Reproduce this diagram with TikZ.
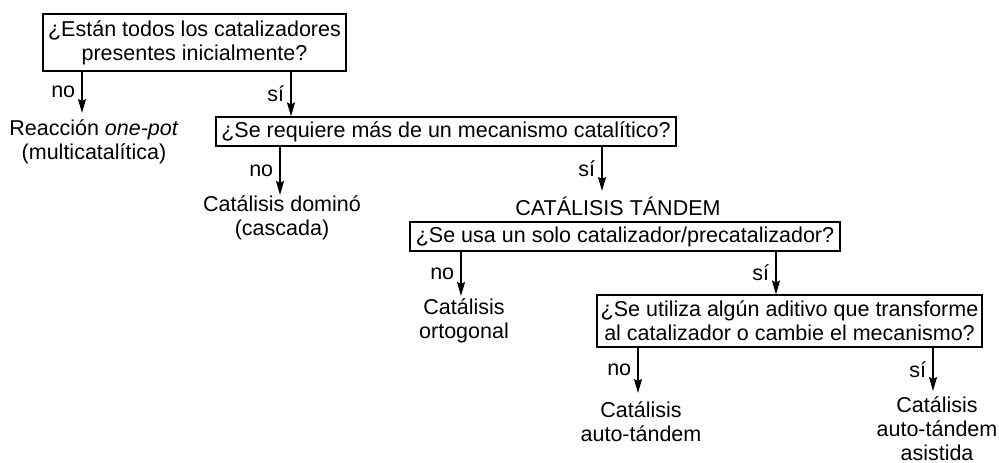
\documentclass[tikz,border=0pt]{standalone}
\usepackage{fontspec}
\setmainfont{Liberation Sans}
\usetikzlibrary{arrows.meta}
\begin{document}
\begin{tikzpicture}[x=1bp,y=-1bp,
  every node/.style={font=\fontsize{21.5bp}{24bp}\selectfont, align=center, inner sep=0pt},
  qbox/.style={draw, line width=1.1bp},
  conn/.style={line width=1.6bp, -{Stealth[length=14bp,width=8bp,inset=2bp]}},
  lab/.style={midway, left, inner sep=6bp}]
\useasboundingbox (0,0) rectangle (999,463);
% question boxes
\node[qbox, minimum width=303bp, minimum height=57bp] (q1) at (194.5,42.5) {¿Están todos los catalizadores\\presentes inicialmente?};
\node[qbox, minimum width=460bp, minimum height=29bp] (q2) at (446,131.5) {¿Se requiere más de un mecanismo catalítico?};
\node[qbox, minimum width=430bp, minimum height=29bp] (q3) at (625,236.5) {¿Se usa un solo catalizador/precatalizador?};
\node[qbox, minimum width=385bp, minimum height=52bp] (q4) at (789.5,321) {¿Se utiliza algún aditivo que transforme\\al catalizador o cambie el mecanismo?};
% outcomes
\node (r1) at (94,142) {Reacción \textit{one-pot}\\(multicatalítica)};
\node (r2) at (282,218) {Catálisis dominó\\(cascada)};
\node (tandem) at (618,206) {CATÁLISIS TÁNDEM};
\node (r3) at (464,321) {Catálisis\\ortogonal};
\node (r4) at (641,422) {Catálisis\\auto-tándem};
\node (r5) at (937,428.5) {Catálisis\\auto-tándem\\asistida};
% arrow tips
\coordinate (t1) at (82,113);
\coordinate (t2) at (291,117);
\coordinate (t3) at (280,195);
\coordinate (t4) at (602,191);
\coordinate (t5) at (461,296);
\coordinate (t6) at (776,295);
\coordinate (t7) at (638,393);
\coordinate (t8) at (933,391);
% connectors
\draw[conn] (q1.south -| t1) -- (t1) node[lab] {no};
\draw[conn] (q1.south -| t2) -- (q2.north -| t2) node[lab] {sí};
\draw[conn] (q2.south -| t3) -- (t3) node[lab] {no};
\draw[conn] (q2.south -| t4) -- (t4) node[lab] {sí};
\draw[conn] (q3.south -| t5) -- (t5) node[lab] {no};
\draw[conn] (q3.south -| t6) -- (q4.north -| t6) node[lab] {sí};
\draw[conn] (q4.south -| t7) -- (t7) node[lab] {no};
\draw[conn] (q4.south -| t8) -- (t8) node[lab] {sí};
\end{tikzpicture}
\end{document}
